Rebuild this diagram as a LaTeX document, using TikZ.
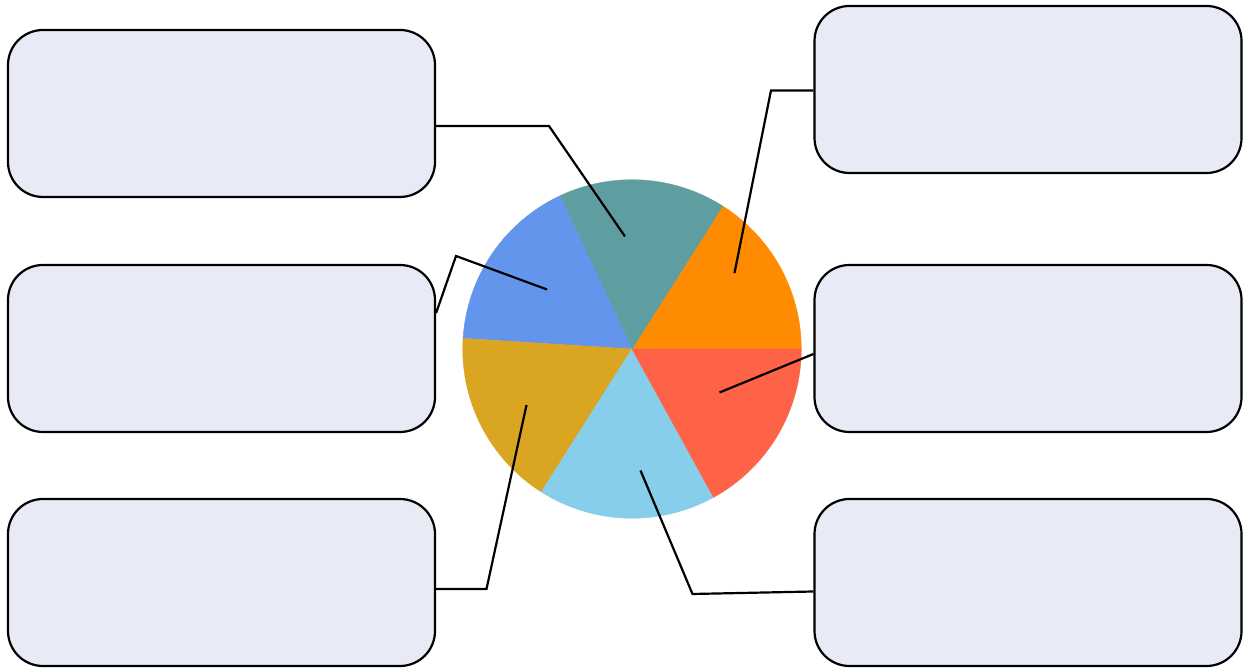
\documentclass[tikz,border=0pt]{standalone}
\usepackage{tikz}

\definecolor{boxfill}{RGB}{232,235,245}
\definecolor{pieorange}{RGB}{255,140,0}
\definecolor{pieteal}{RGB}{95,158,160}
\definecolor{pieblue}{RGB}{100,149,237}
\definecolor{piegold}{RGB}{218,165,32}
\definecolor{piesky}{RGB}{135,206,235}
\definecolor{pietomato}{RGB}{255,99,71}

\begin{document}
\begin{tikzpicture}[x=1pt, y=1pt,
	infobox/.style={draw=black, fill=boxfill, line width=2.2pt, rounded corners=35pt, minimum width=427pt, minimum height=167pt, inner sep=0pt},
	leader/.style={black, line width=2.2pt}]
	\useasboundingbox (0,0) rectangle (1252,668);
	\coordinate (pc) at (632,319);
	\foreach \a/\b/\c in {0/57.6/pieorange, 57.6/115.2/pieteal, 115.2/176.4/pieblue, 176.4/237.6/piegold, 237.6/298.8/piesky, 298.8/360/pietomato}
		\filldraw[fill=\c, draw=\c, line width=0.4pt, line join=round] (pc) -- ++(\a:169.3) arc(\a:\b:169.3) -- cycle;
	\node[infobox] (lt) at (221.5,554.5) {};
	\node[infobox] (lm) at (221.5,319.5) {};
	\node[infobox] (lb) at (221.5,85.5) {};
	\node[infobox] (rt) at (1028,578.5) {};
	\node[infobox] (rm) at (1028,319.5) {};
	\node[infobox] (rb) at (1028,85.5) {};
	\coordinate (ltbend) at (549,542);
	\coordinate (ltend) at (625,431.5);
	\coordinate (lmbend) at (456,412);
	\coordinate (lmend) at (547,378.5);
	\coordinate (lbbend) at (486.5,79);
	\coordinate (lbend) at (526.5,263);
	\coordinate (rtbend) at (771,577.5);
	\coordinate (rtend) at (734.5,395);
	\coordinate (rmend) at (719.5,275.5);
	\coordinate (rbbend) at (692.5,74);
	\coordinate (rbend) at (640.5,197.5);
	\draw[leader] (lt.east |- ltbend) -- (ltbend) -- (ltend);
	\draw[leader] ([yshift=35.5pt]lm.east) -- (lmbend) -- (lmend);
	\draw[leader] (lb.east |- lbbend) -- (lbbend) -- (lbend);
	\draw[leader] (rt.west |- rtbend) -- (rtbend) -- (rtend);
	\draw[leader] ([yshift=-5.5pt]rm.west) -- (rmend);
	\draw[leader] ([yshift=-9pt]rb.west) -- (rbbend) -- (rbend);
\end{tikzpicture}
\end{document}
